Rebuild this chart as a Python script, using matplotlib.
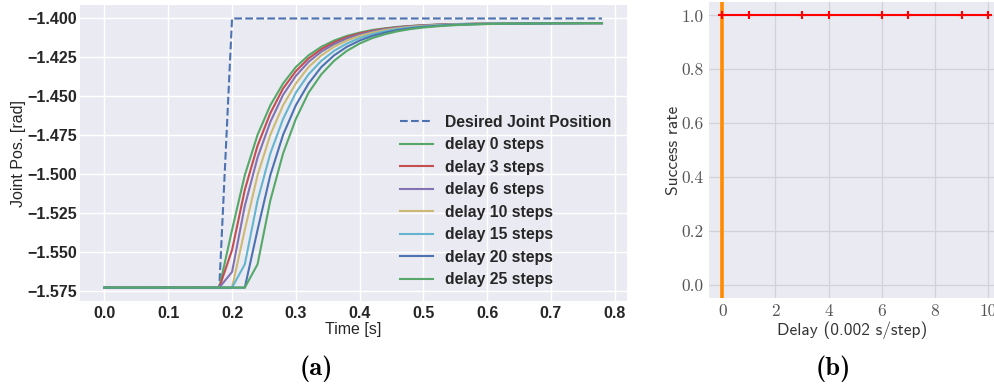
import numpy as np
import matplotlib
matplotlib.use("Agg")
import matplotlib.pyplot as plt

# ---------------- data (a): joint position response ----------------
time_s = np.round(np.linspace(0.0, 0.78, 40), 2)
start_pos = -1.5730

desired = [start_pos] * 10 + [-1.4] * 30

delay_0 = [start_pos] * 10 + [
    -1.5359, -1.5007, -1.4748, -1.4558, -1.4418, -1.4312, -1.4237, -1.4182, -1.4142, -1.4112,
    -1.4091, -1.4074, -1.4063, -1.4054, -1.4048, -1.4043, -1.4040, -1.4037, -1.4035, -1.4034,
    -1.4033, -1.4032, -1.4032, -1.4031, -1.4031, -1.4031, -1.4030, -1.4030, -1.4030, -1.4030]
delay_3 = [start_pos] * 10 + [
    -1.5488, -1.5102, -1.4818, -1.4609, -1.4450, -1.4339, -1.4257, -1.4197, -1.4153, -1.4120,
    -1.4096, -1.4079, -1.4066, -1.4056, -1.4049, -1.4044, -1.4040, -1.4038, -1.4036, -1.4034,
    -1.4033, -1.4033, -1.4032, -1.4031, -1.4031, -1.4031, -1.4030, -1.4030, -1.4030, -1.4030]
delay_6 = [start_pos] * 10 + [
    -1.5629, -1.5205, -1.4894, -1.4665, -1.4491, -1.4369, -1.4279, -1.4213, -1.4165, -1.4129,
    -1.4103, -1.4084, -1.4069, -1.4059, -1.4051, -1.4046, -1.4041, -1.4038, -1.4036, -1.4035,
    -1.4033, -1.4033, -1.4032, -1.4031, -1.4031, -1.4031, -1.4030, -1.4030, -1.4030, -1.4030]
delay_10 = [start_pos] * 11 + [
    -1.5359, -1.5007, -1.4748, -1.4558, -1.4418, -1.4312, -1.4237, -1.4182, -1.4142, -1.4112,
    -1.4091, -1.4074, -1.4063, -1.4054, -1.4048, -1.4043, -1.4040, -1.4037, -1.4035, -1.4034,
    -1.4033, -1.4032, -1.4032, -1.4031, -1.4031, -1.4031, -1.4030, -1.4030, -1.4030]
delay_15 = [start_pos] * 11 + [
    -1.5580, -1.5170, -1.4868, -1.4646, -1.4477, -1.4359, -1.4272, -1.4208, -1.4161, -1.4126,
    -1.4101, -1.4082, -1.4068, -1.4058, -1.4051, -1.4045, -1.4041, -1.4038, -1.4036, -1.4034,
    -1.4033, -1.4033, -1.4032, -1.4031, -1.4031, -1.4031, -1.4030, -1.4030, -1.4030]
delay_20 = [start_pos] * 12 + [
    -1.5359, -1.5007, -1.4748, -1.4558, -1.4418, -1.4312, -1.4237, -1.4182, -1.4142, -1.4112,
    -1.4091, -1.4074, -1.4063, -1.4054, -1.4048, -1.4043, -1.4040, -1.4037, -1.4035, -1.4034,
    -1.4033, -1.4032, -1.4032, -1.4031, -1.4031, -1.4031, -1.4030, -1.4030]
delay_25 = [start_pos] * 12 + [
    -1.5580, -1.5170, -1.4868, -1.4646, -1.4477, -1.4359, -1.4272, -1.4208, -1.4161, -1.4126,
    -1.4101, -1.4082, -1.4068, -1.4058, -1.4051, -1.4045, -1.4041, -1.4038, -1.4036, -1.4034,
    -1.4033, -1.4033, -1.4032, -1.4031, -1.4031, -1.4031, -1.4030, -1.4030]

delay_series = [delay_0, delay_3, delay_6, delay_10, delay_15, delay_20, delay_25]
delay_labels = ["delay 0 steps", "delay 3 steps", "delay 6 steps", "delay 10 steps",
                "delay 15 steps", "delay 20 steps", "delay 25 steps"]
delay_colors = ["#55A868", "#C44E52", "#8172B2", "#CCB974", "#64B5CD", "#4C72B0", "#55A868"]

# ---------------- data (b): success rate vs delay ----------------
delay_steps = [0, 1, 3, 4, 6, 7, 9, 10]
success_rate = [1.0, 1.0, 1.0, 1.0, 1.0, 1.0, 1.0, 1.0]

bg = "#EAEAF2"
txt = "#262626"

fig = plt.figure(figsize=(9.95, 3.86), dpi=100)

####################### (a) #######################
ax1 = fig.add_axes([0.080, 0.220, 0.550, 0.767])
ax1.set_facecolor(bg)
for s in ax1.spines.values():
    s.set_visible(False)
ax1.grid(True, color="white", linewidth=1.0)
ax1.set_axisbelow(True)

ax1.plot(time_s, desired, "--", color="#4C72B0", lw=1.5, label="Desired Joint Position")
for ys, lab, c in zip(delay_series, delay_labels, delay_colors):
    ax1.plot(time_s, ys, color=c, lw=1.5, label=lab)

ax1.set_yticks([-1.575, -1.55, -1.525, -1.5, -1.475, -1.45, -1.425, -1.4])
ax1.set_xticks([0.0, 0.1, 0.2, 0.3, 0.4, 0.5, 0.6, 0.7, 0.8])
ax1.tick_params(axis="y", length=0, pad=2, colors=txt)
ax1.tick_params(axis="x", length=0, pad=3.5, colors=txt)
for lbl in ax1.get_xticklabels() + ax1.get_yticklabels():
    lbl.set_fontfamily("Liberation Sans")
    lbl.set_fontweight("bold")
    lbl.set_fontsize(11.5)
ax1.set_xlabel("Time [s]", family="Liberation Sans", fontsize=11.5, color=txt, labelpad=1)
ax1.set_ylabel("Joint Pos. [rad]", family="Liberation Sans", fontsize=11.5, color=txt, labelpad=1)

leg = ax1.legend(loc="center left", bbox_to_anchor=(0.56, 0.338), frameon=False,
                 prop={"family": "Liberation Sans", "weight": "bold", "size": 11.3},
                 handlelength=2.1, labelspacing=0.48, handletextpad=0.75)
for t in leg.get_texts():
    t.set_color(txt)

####################### (b) #######################
ax2 = fig.add_axes([0.7126, 0.228, 0.2874, 0.767])
ax2.set_facecolor(bg)
for s in ax2.spines.values():
    s.set_visible(False)
ax2.grid(True, color="#d2d2d8", linewidth=0.9)
ax2.set_axisbelow(True)

ax2.axvline(0, color="#FF8C00", lw=2.6)
ax2.plot(delay_steps, success_rate, color="red", lw=1.5, marker="+", markersize=6, mew=1.5)
ax2.set_xlim(-0.5, 10.26)
ax2.set_ylim(-0.05, 1.05)
ax2.set_xticks([0, 2, 4, 6, 8, 10])
ax2.set_yticks([0.0, 0.2, 0.4, 0.6, 0.8, 1.0])
ax2.set_xticklabels(["0", "2", "4", "6", "8", "10"])
ax2.set_yticklabels(["0.0", "0.2", "0.4", "0.6", "0.8", "1.0"])
ax2.tick_params(length=0, pad=4, colors="#555555")
for lbl in ax2.get_xticklabels() + ax2.get_yticklabels():
    lbl.set_fontfamily("cmr10")
    lbl.set_fontsize(12.5)
ax2.set_xlabel("Delay (0.002 s/step)", family="cmss10", fontsize=12.5, color="#333333", labelpad=2)
ax2.set_ylabel("Success rate", family="cmss10", fontsize=12.5, color="#333333", labelpad=0)

# captions
fig.text(0.318, 0.045, "(a)", family="cmb10", fontsize=19, ha="center", va="center")
fig.text(0.837, 0.045, "(b)", family="cmb10", fontsize=19, ha="center", va="center")

fig.savefig("out.png", dpi=100)
